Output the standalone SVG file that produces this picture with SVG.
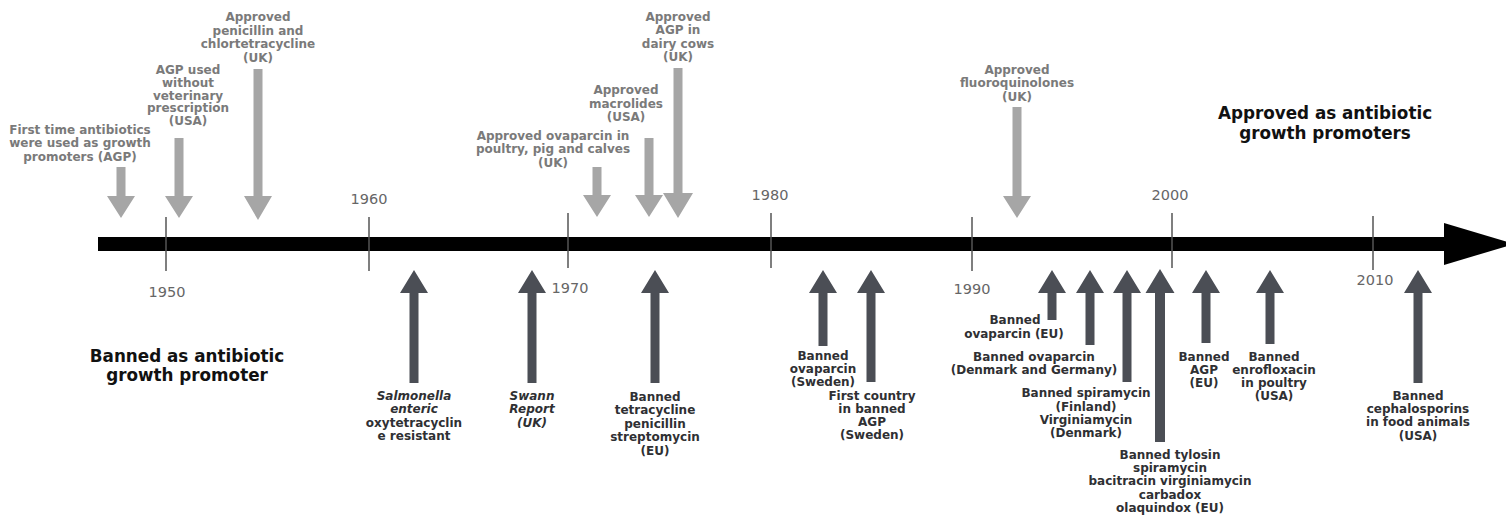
<svg xmlns="http://www.w3.org/2000/svg" width="1506" height="520" viewBox="0 0 1506 520">
<style>
text{font-family:"DejaVu Sans","Liberation Sans",sans-serif;text-anchor:middle}
.lt{font-size:12px;font-weight:bold;fill:#7a7a7a}
.bt{font-size:12px;font-weight:bold;fill:#2f3033}
.it{font-style:italic}
.yr{font-size:14.5px;fill:#666}
.big{font-size:16.8px;font-weight:bold;fill:#111}
.la{fill:#a6a6a6}
.da{fill:#4b4e55}
.tick{stroke:#555;stroke-width:1.5}
</style>
<rect width="1506" height="520" fill="#fff"/>
<g id="axis">
<rect x="98" y="237" width="1350" height="14" fill="#000"/>
<path d="M1444 223 L1514 244 L1444 265 Z" fill="#000"/>
<line class="tick" x1="166" y1="217" x2="166" y2="271"/>
<line class="tick" x1="369" y1="217" x2="369" y2="271"/>
<line class="tick" x1="568" y1="213" x2="568" y2="268"/>
<line class="tick" x1="771" y1="213" x2="771" y2="268"/>
<line class="tick" x1="972" y1="217" x2="972" y2="271"/>
<line class="tick" x1="1172" y1="213" x2="1172" y2="268"/>
<line class="tick" x1="1373" y1="216" x2="1373" y2="270"/>
<text class="yr" x="167" y="297">1950</text>
<text class="yr" x="369" y="204">1960</text>
<text class="yr" x="570" y="293">1970</text>
<text class="yr" x="770" y="200">1980</text>
<text class="yr" x="972" y="294">1990</text>
<text class="yr" x="1170" y="200">2000</text>
<text class="yr" x="1375" y="285">2010</text>
</g>
<g id="legend-approved">
<text class="big" x="1325" y="119">Approved as antibiotic</text>
<text class="big" x="1325" y="139">growth promoters</text>
</g>
<g id="legend-banned">
<text class="big" x="187" y="362">Banned as antibiotic</text>
<text class="big" x="187" y="381">growth promoter</text>
</g>
<g id="connectors">
<path class="la" d="M116.5 167 H125.5 V196 H135 L121 218 L107 196 H116.5 Z"/>
<path class="la" d="M174.5 138 H183.5 V196 H193 L179 218 L165 196 H174.5 Z"/>
<path class="la" d="M253.5 69 H262.5 V196 H272 L258 220 L244 196 H253.5 Z"/>
<path class="la" d="M592.5 167 H601.5 V195 H611 L597 217 L583 195 H592.5 Z"/>
<path class="la" d="M644.5 138 H653.5 V195 H663 L649 217 L635 195 H644.5 Z"/>
<path class="la" d="M673.5 68 H682.5 V193 H693 L678 218 L663 193 H673.5 Z"/>
<path class="la" d="M1012.5 107 H1021.5 V196 H1031 L1017 218 L1003 196 H1012.5 Z"/>
<path class="da" d="M414 270 L428 293 H418.5 V383 H409.5 V293 H400 Z"/>
<path class="da" d="M532 270 L546 293 H536.5 V383 H527.5 V293 H518 Z"/>
<path class="da" d="M655 270 L669 293 H659.5 V383 H650.5 V293 H641 Z"/>
<path class="da" d="M823 270 L837 293 H827.5 V346 H818.5 V293 H809 Z"/>
<path class="da" d="M871 270 L885 293 H875.5 V382 H866.5 V293 H857 Z"/>
<path class="da" d="M1052 270 L1066 293 H1056.5 V320 H1047.5 V293 H1038 Z"/>
<path class="da" d="M1090 270 L1104 293 H1094.5 V345 H1085.5 V293 H1076 Z"/>
<path class="da" d="M1127 270 L1141 293 H1131.5 V382 H1122.5 V293 H1113 Z"/>
<path class="da" d="M1160 269 L1174.5 293 H1165 V442 H1155 V293 H1145.5 Z"/>
<path class="da" d="M1206 270 L1220 293 H1210.5 V343 H1201.5 V293 H1192 Z"/>
<path class="da" d="M1270 270 L1284 293 H1274.5 V344 H1265.5 V293 H1256 Z"/>
<path class="da" d="M1418 270 L1432 293 H1422.5 V383 H1413.5 V293 H1404 Z"/>
</g>
<g id="e-first-agp">
<text class="lt" x="80" y="133.5">First time antibiotics</text>
<text class="lt" x="80" y="147">were used as growth</text>
<text class="lt" x="80" y="160.5">promoters (AGP)</text>
</g>
<g id="e-agp-usa">
<text class="lt" x="188" y="74">AGP used</text>
<text class="lt" x="188" y="86.8">without</text>
<text class="lt" x="188" y="99.6">veterinary</text>
<text class="lt" x="188" y="112.4">prescription</text>
<text class="lt" x="188" y="125.2">(USA)</text>
</g>
<g id="e-penicillin-uk">
<text class="lt" x="258" y="21">Approved</text>
<text class="lt" x="258" y="34.5">penicillin and</text>
<text class="lt" x="258" y="48">chlortetracycline</text>
<text class="lt" x="258" y="61.5">(UK)</text>
</g>
<g id="e-ovaparcin-uk">
<text class="lt" x="553" y="140">Approved ovaparcin in</text>
<text class="lt" x="553" y="153.3">poultry, pig and calves</text>
<text class="lt" x="553" y="166.6">(UK)</text>
</g>
<g id="e-macrolides-usa">
<text class="lt" x="626" y="94.3">Approved</text>
<text class="lt" x="626" y="107.6">macrolides</text>
<text class="lt" x="626" y="120.9">(USA)</text>
</g>
<g id="e-dairy-uk">
<text class="lt" x="678" y="21">Approved</text>
<text class="lt" x="678" y="34.4">AGP in</text>
<text class="lt" x="678" y="47.8">dairy cows</text>
<text class="lt" x="678" y="61.2">(UK)</text>
</g>
<g id="e-fluoro-uk">
<text class="lt" x="1017" y="74">Approved</text>
<text class="lt" x="1017" y="87.3">fluoroquinolones</text>
<text class="lt" x="1017" y="100.6">(UK)</text>
</g>
<g id="e-salmonella">
<text class="bt it" x="414" y="400">Salmonella</text>
<text class="bt it" x="414" y="413.3">enteric</text>
<text class="bt" x="414" y="426.6">oxytetracyclin</text>
<text class="bt" x="414" y="439.9">e resistant</text>
</g>
<g id="e-swann">
<text class="bt it" x="532" y="400">Swann</text>
<text class="bt it" x="532" y="413.3">Report</text>
<text class="bt it" x="532" y="426.6">(UK)</text>
</g>
<g id="e-tetracycline-eu">
<text class="bt" x="655" y="401">Banned</text>
<text class="bt" x="655" y="414.4">tetracycline</text>
<text class="bt" x="655" y="427.8">penicillin</text>
<text class="bt" x="655" y="441.2">streptomycin</text>
<text class="bt" x="655" y="454.6">(EU)</text>
</g>
<g id="e-ovaparcin-sweden">
<text class="bt" x="823" y="359.5">Banned</text>
<text class="bt" x="823" y="372.5">ovaparcin</text>
<text class="bt" x="823" y="385.5">(Sweden)</text>
</g>
<g id="e-first-country">
<text class="bt" x="872" y="400">First country</text>
<text class="bt" x="872" y="413">in banned</text>
<text class="bt" x="872" y="426">AGP</text>
<text class="bt" x="872" y="439">(Sweden)</text>
</g>
<g id="e-ovaparcin-eu">
<text class="bt" x="1015" y="324">Banned</text>
<text class="bt" x="1014" y="337.6">ovaparcin (EU)</text>
</g>
<g id="e-ovaparcin-dk-de">
<text class="bt" x="1034" y="361">Banned ovaparcin</text>
<text class="bt" x="1034" y="374.3">(Denmark and Germany)</text>
</g>
<g id="e-spiramycin">
<text class="bt" x="1086" y="397.3">Banned spiramycin</text>
<text class="bt" x="1086" y="410.6">(Finland)</text>
<text class="bt" x="1086" y="423.9">Virginiamycin</text>
<text class="bt" x="1086" y="437.2">(Denmark)</text>
</g>
<g id="e-tylosin-eu">
<text class="bt" x="1170" y="459">Banned tylosin</text>
<text class="bt" x="1170" y="472.2">spiramycin</text>
<text class="bt" x="1170" y="485.4">bacitracin virginiamycin</text>
<text class="bt" x="1170" y="498.6">carbadox</text>
<text class="bt" x="1170" y="511.8">olaquindox (EU)</text>
</g>
<g id="e-agp-eu">
<text class="bt" x="1204" y="360.7">Banned</text>
<text class="bt" x="1204" y="374">AGP</text>
<text class="bt" x="1204" y="387.3">(EU)</text>
</g>
<g id="e-enrofloxacin-usa">
<text class="bt" x="1274" y="360.7">Banned</text>
<text class="bt" x="1274" y="373.8">enrofloxacin</text>
<text class="bt" x="1274" y="386.9">in poultry</text>
<text class="bt" x="1274" y="400">(USA)</text>
</g>
<g id="e-cephalosporins-usa">
<text class="bt" x="1418" y="400">Banned</text>
<text class="bt" x="1418" y="413.2">cephalosporins</text>
<text class="bt" x="1418" y="426.4">in food animals</text>
<text class="bt" x="1418" y="439.6">(USA)</text>
</g>
</svg>
